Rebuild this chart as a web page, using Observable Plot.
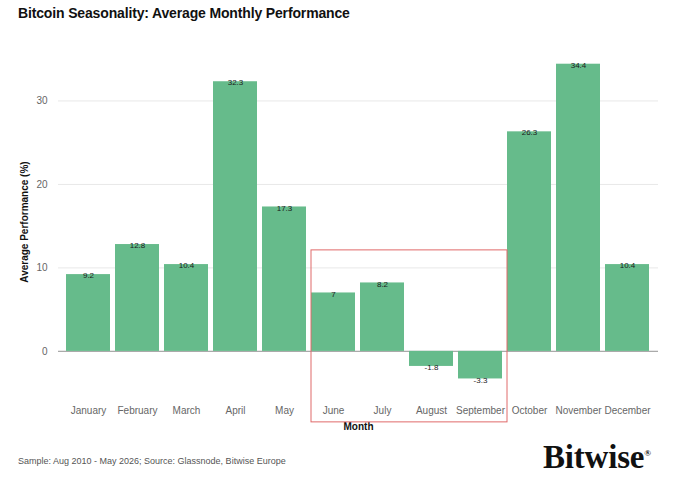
<!DOCTYPE html>
<html>
<head>
<meta charset="utf-8">
<script src="https://cdn.jsdelivr.net/npm/d3@7"></script>
<script src="https://cdn.jsdelivr.net/npm/@observablehq/plot@0.6"></script>
<style>
  html, body { margin: 0; padding: 0; background: #fff; }
  body { width: 680px; height: 477px; position: relative; overflow: hidden; font-family: "Liberation Sans", Arial, sans-serif; }
  #title { position: absolute; left: 18px; top: 5px; font-size: 14px; font-weight: bold; color: #111; letter-spacing: -0.15px; }
  #chart { position: absolute; left: 0; top: 30px; }
  #source { position: absolute; left: 18px; top: 456px; font-size: 9px; color: #555; }
  #logo { position: absolute; left: 543px; top: 439px; font-family: "Liberation Serif", "Times New Roman", serif; font-weight: bold; font-size: 33px; color: #111; letter-spacing: -0.2px; }
  #logo sup { font-size: 9px; vertical-align: 12px; margin-left: 0px; }
</style>
</head>
<body>
<div id="title">Bitcoin Seasonality: Average Monthly Performance</div>
<div id="chart"></div>
<div id="source">Sample: Aug 2010 - May 2026; Source: Glassnode, Bitwise Europe</div>
<div id="logo">Bitwise<sup>®</sup></div>
<script>
const months = ["January","February","March","April","May","June","July","August","September","October","November","December"];
const performance = [9.2, 12.8, 10.4, 32.3, 17.3, 7, 8.2, -1.8, -3.3, 26.3, 34.4, 10.4];
const yTicks = [0, 10, 20, 30];
const highlightMonths = ["June", "September"];
const highlightValues = [12.1, -8.5];

const data = months.map((m, i) => ({month: m, value: performance[i]}));

const paddingInner = 0.1, paddingOuter = 0.16;

const chart = Plot.plot({
  width: 680,
  height: 410,
  marginTop: 12,
  marginLeft: 58,
  marginRight: 22,
  marginBottom: 39,
  style: {fontFamily: "Liberation Sans, Arial, sans-serif", fontSize: "10px", color: "#555", background: "transparent"},
  x: {domain: months, paddingInner, paddingOuter},
  y: {domain: [-6, 37]},
  marks: [
    Plot.gridY(yTicks, {stroke: "#e8e8e8", strokeOpacity: 1}),
    Plot.ruleY([0], {stroke: "#aaa", strokeWidth: 1.2}),
    Plot.barY(data, {x: "month", y: "value", fill: "#66bb8b"}),
    Plot.text(data, {x: "month", y: "value", text: d => String(d.value), dy: 1, fontSize: 8, fill: "#1a1a1a"}),
    Plot.axisX({tickSize: 0, tickPadding: 5, label: "Month", labelAnchor: "center", labelOffset: 28, labelArrow: "none", fill: "#666"}),
    Plot.axisY(yTicks, {tickSize: 0, tickPadding: 11, label: "Average Performance (%)", labelAnchor: "center", labelOffset: 38, labelArrow: "none", fill: "#666"})
  ]
});
document.getElementById("chart").appendChild(chart);

// style axis labels bold/black, strip any arrow
d3.select(chart).selectAll("g[aria-label='x-axis label'] text, g[aria-label='y-axis label'] text")
  .attr("font-weight", "bold").attr("fill", "#111").attr("font-size", "10px")
  .text(function() { return this.textContent.replace(/\s*[↑↓←→]\s*/g, ""); });

// highlight box around June–September
const xs = chart.scale("x"), ys = chart.scale("y");
const gap = xs.step - xs.bandwidth;
const x0 = xs.apply(highlightMonths[0]);
const x1 = xs.apply(highlightMonths[1]) + xs.bandwidth + gap;
const y0 = ys.apply(highlightValues[0]);
const y1 = ys.apply(highlightValues[1]);
d3.select(chart).append("rect")
  .attr("x", x0).attr("y", y0).attr("width", x1 - x0).attr("height", y1 - y0)
  .attr("fill", "none").attr("stroke", "#e06a6a").attr("stroke-width", 1);
</script>
</body>
</html>
